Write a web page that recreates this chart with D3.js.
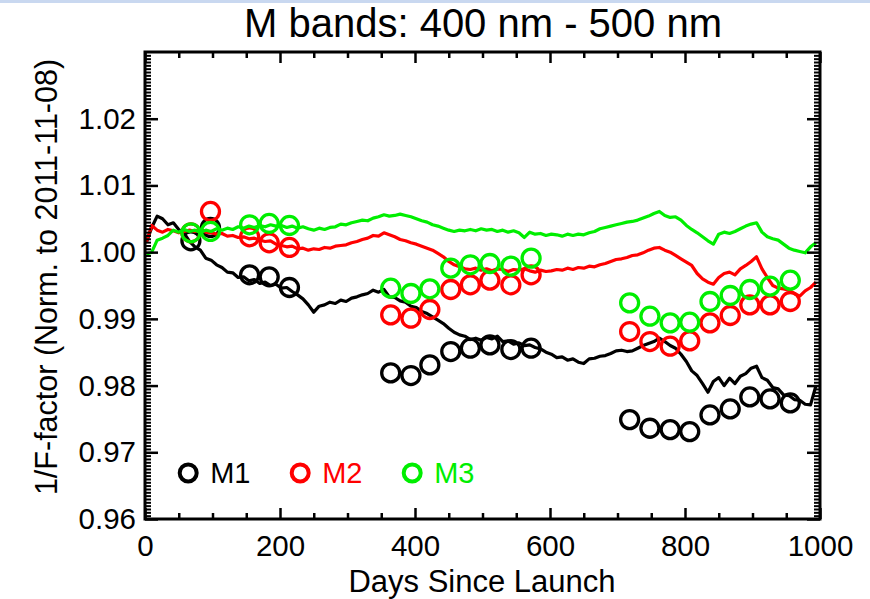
<!DOCTYPE html>
<html><head><meta charset="utf-8">
<script src="https://cdn.jsdelivr.net/npm/d3@7"></script>
<style>
body{margin:0;background:#fff}
svg{display:block}
text{font-family:"Liberation Sans",Arial,Helvetica,sans-serif}
</style>
</head><body>
<svg id="chart" width="870" height="599"></svg>
<script>
// ---------- data ----------
const lineDays = [
  2,10,18,26,34,42,50,58,66,74,
  82,90,98,106,114,122,130,138,146,154,
  162,170,178,186,194,202,210,218,226,234,
  242,250,258,266,274,282,290,298,306,314,
  322,330,338,346,354,362,370,378,386,394,
  402,410,418,426,434,442,450,458,466,474,
  482,490,498,506,514,522,530,538,546,554,
  562,570,578,586,594,602,610,618,626,634,
  642,650,658,666,674,682,690,698,706,714,
  722,730,738,746,754,762,770,778,786,794,
  802,810,818,826,834,842,850,858,866,874,
  882,890,898,906,914,922,930,938,946,954,
  962,970,978,986,994
];
const m1Line = [
  1.0015,1.0037,1.0054,1.0050,1.0041,1.0044,1.0034,1.0028,1.0016,1.0008,
  1.0003,0.9991,0.9988,0.9981,0.9977,0.9970,0.9969,0.9962,0.9963,0.9957,
  0.9959,0.9953,0.9955,0.9950,0.9952,0.9946,0.9947,0.9941,0.9936,0.9930,
  0.9921,0.9910,0.9919,0.9921,0.9925,0.9923,0.9928,0.9926,0.9931,0.9933,
  0.9936,0.9938,0.9943,0.9940,0.9944,0.9933,0.9932,0.9927,0.9925,0.9919,
  0.9917,0.9911,0.9908,0.9903,0.9898,0.9893,0.9886,0.9880,0.9876,0.9874,
  0.9869,0.9871,0.9868,0.9872,0.9870,0.9874,0.9866,0.9867,0.9862,0.9864,
  0.9860,0.9861,0.9857,0.9855,0.9850,0.9847,0.9842,0.9843,0.9838,0.9840,
  0.9835,0.9833,0.9840,0.9841,0.9844,0.9845,0.9848,0.9852,0.9853,0.9851,
  0.9852,0.9856,0.9860,0.9863,0.9866,0.9871,0.9866,0.9860,0.9856,0.9847,
  0.9836,0.9822,0.9815,0.9803,0.9790,0.9806,0.9812,0.9800,0.9811,0.9803,
  0.9814,0.9818,0.9826,0.9829,0.9812,0.9808,0.9797,0.9795,0.9786,0.9785,
  0.9779,0.9778,0.9772,0.9771,0.9800
];
const m2Line = [
  1.0015,1.0040,1.0033,1.0030,1.0034,1.0032,1.0029,1.0031,1.0033,1.0031,
  1.0034,1.0030,1.0029,1.0027,1.0028,1.0024,1.0025,1.0022,1.0023,1.0020,
  1.0021,1.0018,1.0016,1.0017,1.0012,1.0010,1.0008,1.0009,1.0005,1.0006,
  1.0003,1.0005,1.0004,1.0007,1.0006,1.0009,1.0010,1.0011,1.0014,1.0016,
  1.0019,1.0021,1.0025,1.0024,1.0029,1.0026,1.0023,1.0019,1.0017,1.0014,
  1.0012,1.0009,1.0006,1.0003,0.9998,0.9993,0.9986,0.9981,0.9978,0.9975,
  0.9974,0.9976,0.9973,0.9975,0.9972,0.9975,0.9974,0.9971,0.9974,0.9973,
  0.9975,0.9972,0.9970,0.9973,0.9971,0.9972,0.9974,0.9973,0.9976,0.9974,
  0.9977,0.9976,0.9979,0.9978,0.9981,0.9983,0.9986,0.9989,0.9990,0.9992,
  0.9995,0.9996,0.9999,1.0003,1.0006,1.0007,1.0003,1.0000,0.9995,0.9990,
  0.9985,0.9980,0.9968,0.9960,0.9955,0.9952,0.9962,0.9968,0.9970,0.9966,
  0.9975,0.9980,0.9986,0.9993,0.9975,0.9962,0.9950,0.9946,0.9945,0.9943,
  0.9938,0.9934,0.9942,0.9947,0.9955
];
const m3Line = [
  0.9997,1.0000,1.0018,1.0021,1.0025,1.0033,1.0030,1.0034,1.0031,1.0033,
  1.0030,1.0033,1.0031,1.0035,1.0033,1.0036,1.0034,1.0038,1.0036,1.0039,
  1.0037,1.0040,1.0038,1.0041,1.0039,1.0040,1.0037,1.0039,1.0036,1.0038,
  1.0035,1.0033,1.0036,1.0034,1.0037,1.0038,1.0042,1.0041,1.0044,1.0046,
  1.0048,1.0047,1.0051,1.0053,1.0056,1.0054,1.0055,1.0057,1.0055,1.0053,
  1.0050,1.0047,1.0045,1.0041,1.0039,1.0036,1.0033,1.0031,1.0033,1.0032,
  1.0034,1.0032,1.0035,1.0033,1.0034,1.0031,1.0033,1.0030,1.0032,1.0029,
  1.0022,1.0030,1.0027,1.0028,1.0025,1.0027,1.0026,1.0024,1.0027,1.0025,
  1.0027,1.0026,1.0029,1.0031,1.0035,1.0037,1.0039,1.0041,1.0043,1.0045,
  1.0046,1.0048,1.0051,1.0054,1.0058,1.0061,1.0055,1.0052,1.0053,1.0048,
  1.0040,1.0034,1.0029,1.0023,1.0017,1.0012,1.0027,1.0030,1.0028,1.0031,
  1.0035,1.0039,1.0042,1.0044,1.0030,1.0023,1.0020,1.0018,1.0012,1.0006,
  1.0003,1.0001,0.9999,1.0008,1.0014
];
const calDays = [68,97,155,184,214, 364,394,422,453,482,511,542,572, 718,748,778,807,837,867,896,926,956];
const m1Cal = [1.0017,1.0037,0.9966,0.9963,0.9947, 0.9819,0.9815,0.9831,0.9851,0.9856,0.9861,0.9854,0.9856, 0.9749,0.9736,0.9734,0.9731,0.9756,0.9765,0.9783,0.9780,0.9774];
const m2Cal = [1.0029,1.0061,1.0023,1.0014,1.0007, 0.9906,0.9901,0.9914,0.9944,0.9951,0.9958,0.9951,0.9966, 0.9881,0.9866,0.9859,0.9867,0.9894,0.9905,0.9921,0.9921,0.9926];
const m3Cal = [1.0029,1.0031,1.0041,1.0043,1.0040, 0.9946,0.9938,0.9945,0.9976,0.9981,0.9983,0.9979,0.9991, 0.9924,0.9904,0.9894,0.9895,0.9926,0.9935,0.9944,0.9949,0.9958];

const seriesNames = ["M1","M2","M3"];
const seriesColors = ["#000000","#ff0000","#00ee00"];
const xTickValues = [0,200,400,600,800,1000];
const yTickValues = [0.96,0.97,0.98,0.99,1.00,1.01,1.02];
const titleText = "M bands: 400 nm - 500 nm";
const xLabel = "Days Since Launch";
const yLabel = "1/F-factor (Norm. to 2011-11-08)";

// ---------- drawing ----------
const svg = d3.select("#chart");
const L = 145, R = 820, T = 52, B = 519;
const x = d3.scaleLinear().domain([0,1000]).range([L,R]);
const y = d3.scaleLinear().domain([0.96,1.03]).range([B,T]);

svg.append("rect").attr("x",0).attr("y",0).attr("width",870).attr("height",599).attr("fill","#fff");
svg.append("rect").attr("x",0).attr("y",0).attr("width",870).attr("height",3).attr("fill","#c9d8f0");

const lineSeries = [m1Line, m2Line, m3Line];
const calSeries = [m1Cal, m2Cal, m3Cal];
const plot = svg.append("g");
const lineGen = d3.line().x((d,i)=>x(lineDays[i])).y(d=>y(d));

seriesNames.forEach((name, k) => {
  const vals = lineSeries[k].slice(0, lineDays.length);
  plot.append("path").datum(vals)
    .attr("d", lineGen)
    .attr("fill","none")
    .attr("stroke", seriesColors[k])
    .attr("stroke-width", 3.2)
    .attr("stroke-linejoin","round");
  plot.selectAll(null).data(calSeries[k]).enter().append("circle")
    .attr("cx",(d,i)=>x(calDays[i]))
    .attr("cy",d=>y(d))
    .attr("r",9)
    .attr("fill","none")
    .attr("stroke",seriesColors[k])
    .attr("stroke-width",3.3);
});

// axes
const fs = 29.5;
const xMinor = d3.range(0,1001,50).filter(v => v % 200 !== 0);
const yMinor = d3.range(0,141).map(i => 0.96 + i*0.0005).filter(v => Math.abs(v*100 - Math.round(v*100)) > 1e-6);

function styleAxis(g){
  g.select(".domain").remove();
  g.selectAll(".tick line").attr("stroke","#000").attr("stroke-width",2.5);
  g.selectAll(".tick text").attr("fill","#000").style("font-size",fs+"px").style("font-family",'"Liberation Sans",Arial,sans-serif');
}
// bottom
svg.append("g").attr("transform",`translate(0,${B})`)
  .call(d3.axisBottom(x).tickValues(xTickValues).tickSize(-11).tickPadding(16.5).tickFormat(d3.format("d")))
  .call(styleAxis);
svg.append("g").attr("transform",`translate(0,${B})`)
  .call(d3.axisBottom(x).tickValues(xMinor).tickSize(-6).tickFormat(""))
  .call(styleAxis);
// top
svg.append("g").attr("transform",`translate(0,${T})`)
  .call(d3.axisTop(x).tickValues(xTickValues).tickSize(-11).tickFormat(""))
  .call(styleAxis);
svg.append("g").attr("transform",`translate(0,${T})`)
  .call(d3.axisTop(x).tickValues(xMinor).tickSize(-6).tickFormat(""))
  .call(styleAxis);
// left
svg.append("g").attr("transform",`translate(${L},0)`)
  .call(d3.axisLeft(y).tickValues(yTickValues).tickSize(-13).tickPadding(9).tickFormat(d3.format(".2f")))
  .call(styleAxis);
svg.append("g").attr("transform",`translate(${L},0)`)
  .call(d3.axisLeft(y).tickValues(yMinor).tickSize(-6).tickFormat(""))
  .call(g => { styleAxis(g); g.selectAll(".tick line").attr("stroke-width",2); });
// right
svg.append("g").attr("transform",`translate(${R},0)`)
  .call(d3.axisRight(y).tickValues(yTickValues).tickSize(-13).tickFormat(""))
  .call(styleAxis);
svg.append("g").attr("transform",`translate(${R},0)`)
  .call(d3.axisRight(y).tickValues(yMinor).tickSize(-6).tickFormat(""))
  .call(g => { styleAxis(g); g.selectAll(".tick line").attr("stroke-width",2); });

// frame
svg.append("rect").attr("x",L).attr("y",T).attr("width",R-L).attr("height",B-T)
  .attr("fill","none").attr("stroke","#000").attr("stroke-width",3);

// title & labels
svg.append("text").attr("x",483).attr("y",37).attr("text-anchor","middle")
  .style("font-size","40px").text(titleText);
svg.append("text").attr("x",482).attr("y",591.5).attr("text-anchor","middle")
  .style("font-size","31px").text(xLabel);
svg.append("text").attr("transform","translate(57,277) rotate(-90)").attr("text-anchor","middle")
  .style("font-size","30.5px").text(yLabel);

// legend
const legendY = y(0.9669);
const legendX0 = x(64);
seriesNames.forEach((name,k) => {
  const lx = legendX0 + k*112;
  svg.append("circle").attr("cx",lx).attr("cy",legendY).attr("r",8.5)
    .attr("fill","none").attr("stroke",seriesColors[k]).attr("stroke-width",4);
  svg.append("text").attr("x",lx+22).attr("y",legendY+10)
    .attr("fill",seriesColors[k]).style("font-size","29px").text(name);
});
</script>
</body></html>
